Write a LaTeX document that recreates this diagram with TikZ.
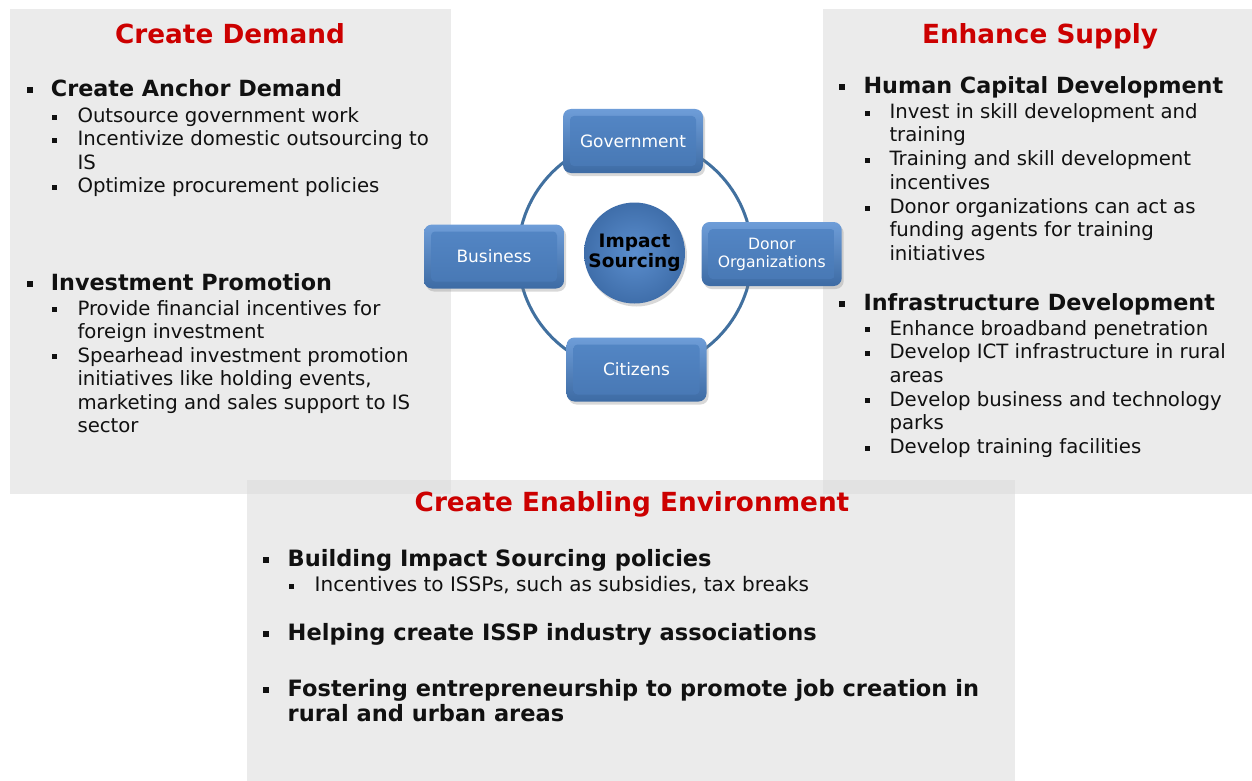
\documentclass[tikz,border=0pt]{standalone}
\usepackage{fontspec}
\setmainfont{DejaVu Sans}
\usetikzlibrary{shadows}
\definecolor{panel}{HTML}{EBEBEB}
\definecolor{overlap}{HTML}{E2E2E2}
\definecolor{titlered}{HTML}{CC0000}
\definecolor{facetop}{HTML}{5487C6}
\definecolor{facebot}{HTML}{4777B3}
\definecolor{boxlight}{HTML}{6E9DD8}
\definecolor{boxdark}{HTML}{3D6BA4}
\definecolor{hubin}{HTML}{5B8ECE}
\definecolor{hubout}{HTML}{3F6EAA}
\definecolor{ringblue}{HTML}{41709F}
\definecolor{txt}{HTML}{111111}
\begin{document}
\begin{tikzpicture}[x=1pt,y=-1pt,
  paneltitle/.style={font=\fontsize{26.3}{30}\selectfont\bfseries, text=titlered, inner sep=0pt, anchor=base},
  headtext/.style={font=\fontsize{22.3}{26}\selectfont\bfseries, text=txt, inner sep=0pt, anchor=base west},
  subtext/.style={font=\fontsize{19.7}{23.5}\selectfont, text=txt, inner sep=0pt, anchor=base west},
  bighead/.style={font=\fontsize{22.5}{25}\selectfont\bfseries, text=txt, inner sep=0pt, anchor=base west},
  hbul/.style={fill=txt, minimum size=6pt, inner sep=0pt},
  sbul/.style={fill=txt, minimum size=5pt, inner sep=0pt},
  bluebox/.style={rounded corners=8pt, minimum width=140pt, minimum height=64pt,
    top color=boxlight, bottom color=boxdark,
    drop shadow={opacity=0.3, shadow xshift=2pt, shadow yshift=-3pt},
    text=white, font=\fontsize{17}{19}\selectfont, align=center, inner sep=2pt,
    path picture={\shade[top color=facetop, bottom color=facebot, rounded corners=4pt]
      ([shift={(7pt,-7pt)}]path picture bounding box.north west) rectangle
      ([shift={(-7pt,7pt)}]path picture bounding box.south east);}},
  hub/.style={circle, minimum size=101pt, inner sep=0pt, inner color=hubin, outer color=hubout,
    drop shadow={opacity=0.3, shadow xshift=2pt, shadow yshift=-3pt},
    text=black, font=\fontsize{18.5}{20}\selectfont\bfseries, align=center}
]
\useasboundingbox (0,0) rectangle (1252,781);
\fill[white] (0,0) rectangle (1252,781);
% panels
\fill[panel] (10,9) rectangle (451,494);
\fill[panel] (823,9) rectangle (1252,494);
\fill[panel] (247,480) rectangle (1015,781);
\fill[overlap] (247,480) rectangle (451,494);
\fill[overlap] (823,480) rectangle (1015,494);

% ---------- left panel ----------
\node[paneltitle] (t1) at (230,43.3) {Create Demand};
\node[hbul] (b1) at (30,90.3) {};
\node[headtext] (h1) at (50.7,96.7) {Create Anchor Demand};
\node[sbul] (s1a) at (54.5,117.5) {};
\node[subtext] (l1a) at (77.3,122.7) {Outsource government work};
\node[sbul] (s1b) at (54.5,140.8) {};
\node[subtext] (l1b) at (77.3,146.0) {Incentivize domestic outsourcing to};
\node[subtext] (l1c) at (77.3,169.4) {IS};
\node[sbul] (s1c) at (54.5,187.6) {};
\node[subtext] (l1d) at (77.3,192.8) {Optimize procurement policies};

\node[hbul] (b2) at (30,283.6) {};
\node[headtext] (h2) at (50.7,290) {Investment Promotion};
\node[sbul] (s2a) at (54.5,309.8) {};
\node[subtext] (l2a) at (77.3,315) {Provide financial incentives for};
\node[subtext] (l2b) at (77.3,338.5) {foreign investment};
\node[sbul] (s2b) at (54.5,356.8) {};
\node[subtext] (l2c) at (77.3,362) {Spearhead investment promotion};
\node[subtext] (l2d) at (77.3,385.5) {initiatives like holding events,};
\node[subtext] (l2e) at (77.3,409) {marketing and sales support to IS};
\node[subtext] (l2f) at (77.3,432.5) {sector};

% ---------- right panel ----------
\node[paneltitle] (t2) at (1040,43.3) {Enhance Supply};
\node[hbul] (b3) at (842,86.9) {};
\node[headtext] (h3) at (863.3,93.3) {Human Capital Development};
\node[sbul] (s3a) at (867.5,113.1) {};
\node[subtext] (l3a) at (889.3,118.3) {Invest in skill development and};
\node[subtext] (l3b) at (889.3,141.8) {training};
\node[sbul] (s3b) at (867.5,160.5) {};
\node[subtext] (l3c) at (889.3,165.7) {Training and skill development};
\node[subtext] (l3d) at (889.3,189.3) {incentives};
\node[sbul] (s3c) at (867.5,208.1) {};
\node[subtext] (l3e) at (889.3,213.3) {Donor organizations can act as};
\node[subtext] (l3f) at (889.3,236.7) {funding agents for training};
\node[subtext] (l3g) at (889.3,260) {initiatives};

\node[hbul] (b4) at (842,303.6) {};
\node[headtext] (h4) at (863.3,310) {Infrastructure Development};
\node[sbul] (s4a) at (867.5,329.8) {};
\node[subtext] (l4a) at (889.3,335) {Enhance broadband penetration};
\node[sbul] (s4b) at (867.5,353.1) {};
\node[subtext] (l4b) at (889.3,358.3) {Develop ICT infrastructure in rural};
\node[subtext] (l4c) at (889.3,382.2) {areas};
\node[sbul] (s4c) at (867.5,400.8) {};
\node[subtext] (l4d) at (889.3,406) {Develop business and technology};
\node[subtext] (l4e) at (889.3,429.8) {parks};
\node[sbul] (s4d) at (867.5,448.1) {};
\node[subtext] (l4f) at (889.3,453.3) {Develop training facilities};

% ---------- bottom panel ----------
\node[paneltitle] (t3) at (632,511.7) {Create Enabling Environment};
\node[hbul] (b5) at (266,559.7) {};
\node[bighead] (h5) at (287.5,566.7) {Building Impact Sourcing policies};
\node[sbul] (s5a) at (291.5,586.5) {};
\node[subtext, font=\fontsize{20}{24}\selectfont] (l5a) at (314.5,591.7) {Incentives to ISSPs, such as subsidies, tax breaks};
\node[hbul] (b6) at (266,633.7) {};
\node[bighead] (h6) at (287.5,640.7) {Helping create ISSP industry associations};
\node[hbul] (b7) at (266,689.7) {};
\node[bighead] (h7) at (287.5,696.7) {Fostering entrepreneurship to promote job creation in};
\node[bighead] (h7b) at (287.5,721.7) {rural and urban areas};

% ---------- centre diagram ----------
\coordinate (ringc) at (635,255);
\draw[ringblue, line width=3pt] (ringc) circle[radius=117];
\node[hub] (isc) at (634.5,253) {Impact\\Sourcing};
\node[bluebox] (gov) at (633,141) {Government};
\node[bluebox] (bus) at (494,256.5) {Business};
\node[bluebox, font=\fontsize{15.6}{18}\selectfont] (don) at (771.7,254) {Donor\\Organizations};
\node[bluebox] (cit) at (636.5,369.5) {Citizens};
\end{tikzpicture}
\end{document}
